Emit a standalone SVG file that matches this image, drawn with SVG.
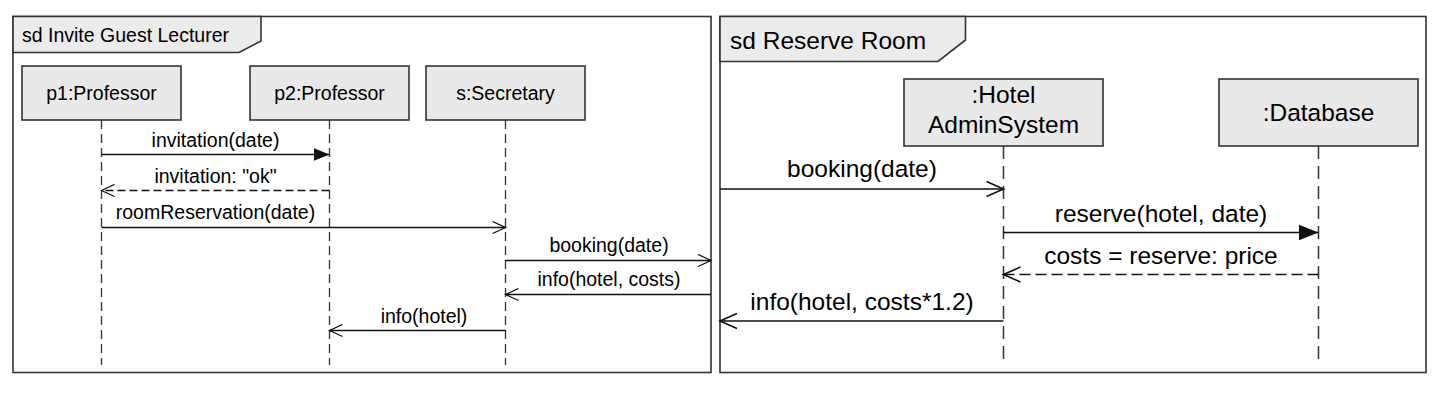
<svg xmlns="http://www.w3.org/2000/svg" width="1442" height="416" viewBox="0 0 1442 416">
<style>
  text { font-family: "Liberation Sans", Arial, sans-serif; fill: #000; }
  .fs { font-size: 19.5px; }
  .fl { font-size: 24.5px; }
  .mid { text-anchor: middle; }
  .frame { fill: #fff; stroke: #333; stroke-width: 1.6; }
  .tab { fill: #ebebeb; stroke: #333; stroke-width: 1.6; }
  .box { fill: #e9e9e9; stroke: #333; stroke-width: 1.6; }
  .lifeS { stroke: #333; stroke-width: 1.3; stroke-dasharray: 9 5; fill: none; }
  .lifeL { stroke: #333; stroke-width: 1.5; stroke-dasharray: 13 7; fill: none; }
  .msgS { stroke: #111; stroke-width: 1.3; fill: none; }
  .msgL { stroke: #111; stroke-width: 1.6; fill: none; }
  .retS { stroke-dasharray: 8 4; }
  .retL { stroke-dasharray: 11 5; }
</style>
<defs>
  <marker id="fillS" markerUnits="userSpaceOnUse" markerWidth="17" markerHeight="14" refX="16" refY="7" orient="auto">
    <path d="M0,0.5 L16,7 L0,13.5 z" fill="#111"/>
  </marker>
  <marker id="openS" markerUnits="userSpaceOnUse" markerWidth="16" markerHeight="14" refX="14" refY="7" orient="auto">
    <path d="M1,1 L14,7 L1,13" fill="none" stroke="#111" stroke-width="1.3"/>
  </marker>
  <marker id="fillL" markerUnits="userSpaceOnUse" markerWidth="21" markerHeight="18" refX="20" refY="9" orient="auto">
    <path d="M0,1 L20,9 L0,17 z" fill="#111"/>
  </marker>
  <marker id="openL" markerUnits="userSpaceOnUse" markerWidth="20" markerHeight="18" refX="18" refY="9" orient="auto">
    <path d="M1,1.5 L18,9 L1,16.5" fill="none" stroke="#111" stroke-width="1.6"/>
  </marker>
</defs>

<g id="frame-invite">
  <rect class="frame" x="13" y="16.5" width="698" height="356"/>
  <path class="tab" d="M13,16.5 L261,16.5 L261,41 L239,52.5 L13,52.5 z"/>
  <text class="fs" x="22" y="42">sd Invite Guest Lecturer</text>
</g>

<g id="frame-reserve">
  <rect class="frame" x="720" y="16.5" width="706" height="356"/>
  <path class="tab" d="M720,16.5 L965.5,16.5 L965.5,40 L938,61.5 L720,61.5 z"/>
  <text class="fl" x="730" y="48.5">sd Reserve Room</text>
</g>

<g id="p1">
  <rect class="box" x="22" y="66" width="159" height="54"/>
  <text class="fs mid" x="101.5" y="100">p1:Professor</text>
  <line class="lifeS" x1="101.5" y1="120" x2="101.5" y2="365"/>
</g>
<g id="p2">
  <rect class="box" x="250" y="66" width="159" height="54"/>
  <text class="fs mid" x="329.5" y="100">p2:Professor</text>
  <line class="lifeS" x1="329.5" y1="120" x2="329.5" y2="365"/>
</g>
<g id="s">
  <rect class="box" x="426" y="66" width="159" height="54"/>
  <text class="fs mid" x="505.5" y="100">s:Secretary</text>
  <line class="lifeS" x1="505.5" y1="120" x2="505.5" y2="365"/>
</g>
<g id="hotel">
  <rect class="box" x="904" y="79" width="199" height="67"/>
  <text class="fl mid" x="1003.5" y="103">:Hotel</text>
  <text class="fl mid" x="1003.5" y="133">AdminSystem</text>
  <line class="lifeL" x1="1003.5" y1="146" x2="1003.5" y2="363"/>
</g>
<g id="database">
  <rect class="box" x="1219" y="79" width="199" height="67"/>
  <text class="fl mid" x="1318.5" y="121">:Database</text>
  <line class="lifeL" x1="1318.5" y1="146" x2="1318.5" y2="363"/>
</g>

<g id="connectors">
  <line class="msgS" x1="101.5" y1="154.5" x2="329.5" y2="154.5" marker-end="url(#fillS)"/>
  <text class="fs mid" x="215.5" y="147">invitation(date)</text>

  <line class="msgS retS" x1="329.5" y1="190.5" x2="101.5" y2="190.5" marker-end="url(#openS)"/>
  <text class="fs mid" x="215.5" y="183">invitation: "ok"</text>

  <line class="msgS" x1="101.5" y1="227.5" x2="505.5" y2="227.5" marker-end="url(#openS)"/>
  <text class="fs mid" x="215.5" y="219">roomReservation(date)</text>

  <line class="msgS" x1="505.5" y1="260.5" x2="711" y2="260.5" marker-end="url(#openS)"/>
  <text class="fs mid" x="609" y="252">booking(date)</text>

  <line class="msgS" x1="711" y1="294.5" x2="505.5" y2="294.5" marker-end="url(#openS)"/>
  <text class="fs mid" x="609" y="286">info(hotel, costs)</text>

  <line class="msgS" x1="505.5" y1="330.5" x2="329.5" y2="330.5" marker-end="url(#openS)"/>
  <text class="fs mid" x="424" y="323">info(hotel)</text>

  <line class="msgL" x1="720" y1="189" x2="1003.5" y2="189" marker-end="url(#openL)"/>
  <text class="fl mid" x="862" y="177">booking(date)</text>

  <line class="msgL" x1="1003.5" y1="232.5" x2="1318.5" y2="232.5" marker-end="url(#fillL)"/>
  <text class="fl mid" x="1161" y="222">reserve(hotel, date)</text>

  <line class="msgL retL" x1="1318.5" y1="274.5" x2="1003.5" y2="274.5" marker-end="url(#openL)"/>
  <text class="fl mid" x="1161" y="264">costs = reserve: price</text>

  <line class="msgL" x1="1003.5" y1="321" x2="720" y2="321" marker-end="url(#openL)"/>
  <text class="fl mid" x="862" y="310">info(hotel, costs*1.2)</text>
</g>
</svg>
